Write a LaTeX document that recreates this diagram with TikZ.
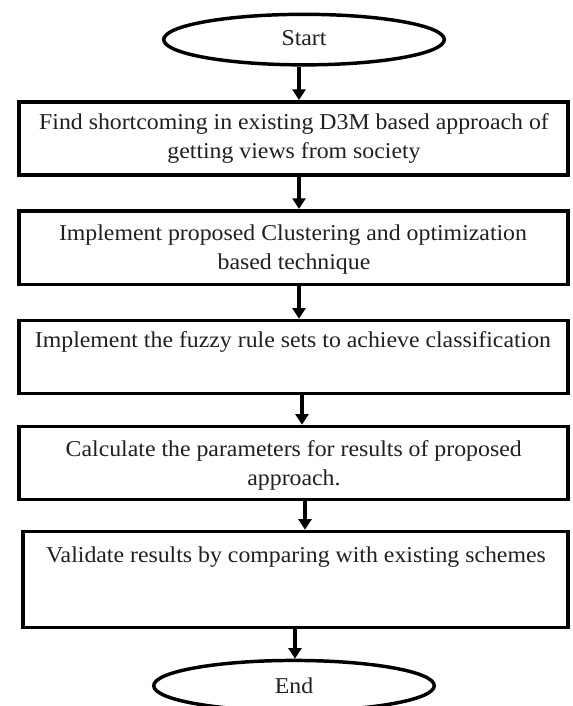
\documentclass[tikz,border=0pt]{standalone}
\usepackage{fontspec}
\setmainfont[FakeStretch=1.05]{Liberation Serif}
\usetikzlibrary{shapes.geometric,arrows.meta}
\definecolor{txt}{HTML}{231F20}
\tikzset{
  flowbox/.style={draw=black, line width=2.7pt, rectangle, inner sep=0pt, minimum width=411.75pt},
  term/.style={draw=black, line width=2.6pt, ellipse, inner sep=0pt, minimum width=210.4pt, minimum height=37.9pt},
  lbl/.style={anchor=base, inner sep=0pt, text=txt, font=\fontsize{17pt}{20pt}\selectfont},
  arr/.style={line width=3pt, -{Triangle[width=9.75pt,length=8pt]}}
}
\begin{document}
\begin{tikzpicture}[x=0.75pt, y=-0.75pt]
\clip (0,0) rectangle (572,706);
\fill[white] (0,0) rectangle (572,706);
% terminals
\node[term] (start) at (304,39.6) {};
\node[term] (end) at (294,685.7) {};
% boxes
\node[flowbox, minimum height=54.9pt] (b1) at (293.75,138.4) {};
\node[flowbox, minimum height=55.3pt] (b2) at (293.75,247.6) {};
\node[flowbox, minimum height=54.75pt] (b3) at (293.75,357) {};
\node[flowbox, minimum height=54.75pt] (b4) at (293.75,463) {};
\node[flowbox, minimum height=72pt, minimum width=409.1pt] (b5) at (295.5,579.5) {};
% texts
\node[lbl] (tstart) at (304,45.7) {Start};
\node[lbl] (t1a) at (294,130) {Find shortcoming in existing D3M based approach of};
\node[lbl] (t1b) at (294,159) {getting views from society};
\node[lbl] (t2a) at (293,240.5) {Implement proposed Clustering and optimization};
\node[lbl] (t2b) at (294,269) {based technique};
\node[lbl] (t3a) at (293,347.5) {Implement the fuzzy rule sets to achieve classification};
\node[lbl] (t4a) at (293.7,456.5) {Calculate the parameters for results of proposed};
\node[lbl] (t4b) at (294,485) {approach.};
\node[lbl] (t5a) at (296,562) {Validate results by comparing with existing schemes};
\node[lbl] (tend) at (294,693) {End};
% connectors
\draw[arr] (start.south -| 299,0) -- (b1.north -| 299,0);
\draw[arr] (b1.south -| 299,0) -- (b2.north -| 299,0);
\draw[arr] (b2.south -| 299,0) -- (b3.north -| 299,0);
\draw[arr] (b3.south -| 302,0) -- (b4.north -| 302,0);
\draw[arr] (b4.south -| 305,0) -- (b5.north -| 305,0);
\draw[arr] (b5.south -| 295,0) -- (end.north -| 295,0);
\end{tikzpicture}
\end{document}
